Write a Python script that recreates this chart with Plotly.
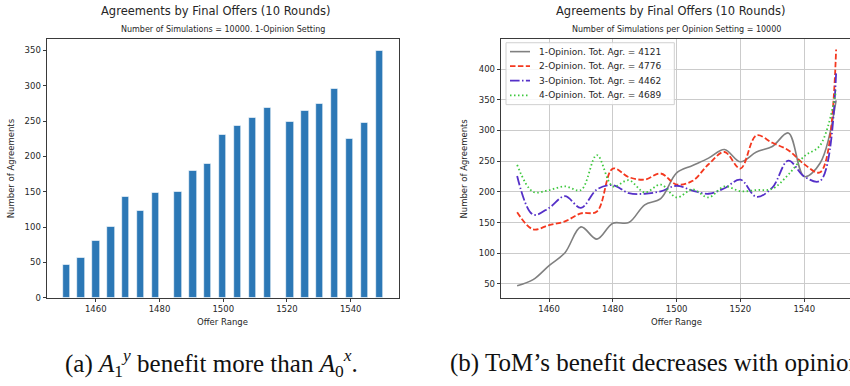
import plotly.graph_objects as go

W, H = 850, 386

# ---- data -------------------------------------------------------------
# offer values used for the per-opinion curves
offers = [1450, 1455, 1460, 1465, 1470, 1475, 1480, 1485, 1490, 1495, 1500,
          1505, 1510, 1515, 1520, 1525, 1530, 1535, 1540, 1545, 1550]

# histogram bin centres of the 1-opinion setting (two empty bins)
bin_centers = [1450.8, 1455.4, 1460.1, 1464.8, 1469.4, 1474.1, 1478.8,
               1485.8, 1490.5, 1495.1, 1499.8, 1504.5, 1509.2, 1513.8,
               1521.0, 1525.7, 1530.3, 1535.0, 1539.7, 1544.4, 1549.0]

agr_1op = [47, 57, 80, 101, 143, 123, 149, 150, 179, 189, 231,
           243, 255, 269, 249, 265, 274, 296, 225, 247, 349]
agr_2op = [167, 139, 146, 152, 165, 168, 238, 224, 220, 230, 212,
           218, 245, 265, 238, 292, 280, 268, 245, 232, 432]
agr_3op = [226, 163, 174, 193, 174, 204, 211, 198, 197, 201, 210,
           202, 197, 206, 220, 192, 207, 251, 225, 218, 393]
agr_4op = [244, 200, 203, 209, 203, 260, 209, 219, 199, 212, 191,
           204, 191, 209, 201, 203, 205, 228, 258, 276, 365]

x_ticks = [1460, 1480, 1500, 1520, 1540]
y_ticks_left = [0, 50, 100, 150, 200, 250, 300, 350]
y_ticks_right = [50, 100, 150, 200, 250, 300, 350, 400]

series = [
    ("1-Opinion", agr_1op, "#808080", "solid", 1.6),
    ("2-Opinion", agr_2op, "#f4381f", "5.5px,2.4px", 1.8),
    ("3-Opinion", agr_3op, "#5530c8", "9.6px,2.4px,1.5px,2.4px", 1.8),
    ("4-Opinion", agr_4op, "#3ec83e", "1.5px,2.5px", 1.8),
]

# ---- helpers for paper-coordinate placement ----------------------------
def px(x):
    return x / W


def py(y):
    return 1 - y / H


FONT = "DejaVu Sans"
INK = "#262626"
SPINE = "#3a3a3a"

fig = go.Figure()

# left panel: bar histogram
fig.add_trace(go.Bar(
    x=bin_centers, y=agr_1op, width=2.3,
    marker=dict(color="#2c78b6", line=dict(color="white", width=0.6)),
    xaxis="x", yaxis="y", showlegend=False,
))

# right panel: smoothed curves per opinion setting
for name, vals, color, dash, lw in series:
    fig.add_trace(go.Scatter(
        x=offers, y=vals, mode="lines",
        line=dict(color=color, dash=dash, width=lw, shape="spline", smoothing=1.0),
        name=f"{name}. Tot. Agr. = {sum(vals)}",
        xaxis="x2", yaxis="y2", showlegend=False,
    ))

tick_font = dict(family=FONT, size=8.5, color=INK)
axis_common = dict(
    ticks="outside", ticklen=3.5, tickwidth=0.8, tickcolor=SPINE,
    showline=True, linecolor=SPINE, linewidth=1, zeroline=False,
    tickfont=tick_font,
)

y_dom = [py(301.7), py(39.3)]

fig.update_layout(
    width=W, height=H,
    margin=dict(l=0, r=0, t=0, b=0),
    paper_bgcolor="white", plot_bgcolor="white",
    xaxis=dict(domain=[px(47), px(398.5)], range=[1444.7, 1555.0],
               tickvals=x_ticks, mirror=True, showgrid=False, anchor="y",
               **axis_common),
    yaxis=dict(domain=y_dom, range=[0, 366.3], tickvals=y_ticks_left,
               mirror=True, showgrid=False, anchor="x", **axis_common),
    xaxis2=dict(domain=[px(501.2), 1.0], range=[1445.0, 1554.35],
                tickvals=x_ticks, mirror=True, showgrid=True,
                gridcolor="#cbcbcb", gridwidth=1, anchor="y2", **axis_common),
    yaxis2=dict(domain=y_dom, range=[27.5, 449.4], tickvals=y_ticks_right,
                mirror=False, showgrid=True, gridcolor="#cbcbcb", gridwidth=1,
                anchor="x2", **axis_common),
    bargap=0,
)

ann = []


def text(x, y, s, size, **kw):
    ann.append(dict(x=px(x), y=py(y), xref="paper", yref="paper", text=s,
                    showarrow=False, font=dict(family=kw.pop("family", FONT),
                                               size=size, color=kw.pop("color", INK)),
                    xanchor=kw.pop("xanchor", "center"),
                    yanchor=kw.pop("yanchor", "middle"), **kw))


# titles
text(216, 11, "Agreements by Final Offers (10 Rounds)", 11.5)
text(222.5, 29.7, "Number of Simulations = 10000. 1-Opinion Setting", 8)
text(670.5, 11, "Agreements by Final Offers (10 Rounds)", 11.5)
text(676.3, 29.7, "Number of Simulations per Opinion Setting = 10000", 8)

# axis titles
text(222, 326, "Offer Range", 8.5)
text(676.3, 326, "Offer Range", 8.5)
text(11, 170.5, "Number of Agreements", 8.5, textangle=-90)
text(464.3, 170.5, "Number of Agreements", 8.5, textangle=-90)

# captions
text(63, 368, "(a) <i>A</i><sub>1</sub><sup><i>y</i></sup> benefit more than "
     "<i>A</i><sub>0</sub><sup><i>x</i></sup>.", 25,
     family="Liberation Serif", color="#111", xanchor="left")
text(448, 368, "(b) ToM\u2019s benefit decreases with opinions.", 25,
     family="Liberation Serif", color="#111", xanchor="left")

# legend for the right panel
shapes = [dict(type="rect", xref="paper", yref="paper",
               x0=px(506), x1=px(674.3), y0=py(106), y1=py(43.3),
               fillcolor="rgba(255,255,255,0.85)",
               line=dict(color="#d0d0d0", width=1), layer="above")]
row_y = [52.3, 67.0, 81.7, 96.7]
for (name, vals, color, dash, lw), ry in zip(series, row_y):
    shapes.append(dict(type="line", xref="paper", yref="paper",
                       x0=px(510), x1=px(530), y0=py(ry), y1=py(ry),
                       line=dict(color=color, dash=dash, width=lw), layer="above"))
    text(536.7, ry, f"{name}. Tot. Agr. = {sum(vals)}", 9, xanchor="left")

fig.update_layout(annotations=ann, shapes=shapes)

fig.write_html("out.html")
